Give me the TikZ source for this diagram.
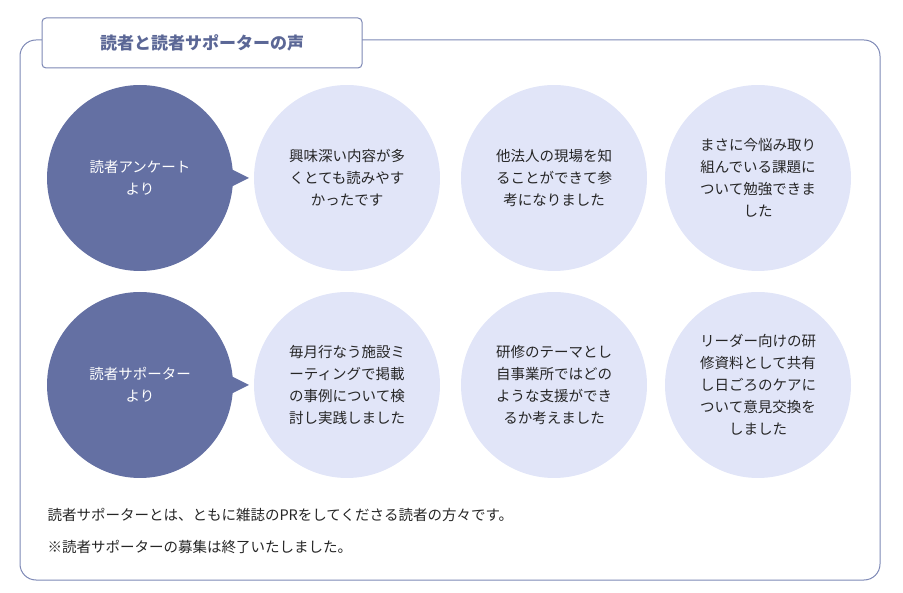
\documentclass[tikz,border=0pt]{standalone}
\usepackage{fontspec}
\setmainfont{Noto Sans CJK JP}
\XeTeXlinebreaklocale "ja"
\begin{document}
\begin{tikzpicture}[x=1pt,y=-1pt,
  dark/.style={circle,fill=dk,minimum size=186pt,inner sep=0pt,text=white,font=\fontsize{14.5}{22}\selectfont,align=center},
  light/.style={circle,fill=lt,minimum size=186pt,inner sep=0pt,text=black!85,font=\fontsize{14.5}{22}\selectfont,align=center},
  frame/.style={draw=fr,line width=1pt}]
\definecolor{dk}{HTML}{6470A3}
\definecolor{lt}{HTML}{E1E5F8}
\definecolor{fr}{HTML}{7D88B5}
\definecolor{tt}{HTML}{5B6796}
\useasboundingbox (0,0) rectangle (903,593);
\draw[frame,rounded corners=16pt] (42,40) -- (20,40) -- (20,580) -- (880,580) -- (880,40) -- (362,40);
\node[frame,fill=white,rounded corners=4pt,minimum width=320pt,minimum height=50pt,text=tt,font=\fontsize{17}{20}\selectfont\bfseries] (title) at (202,43) {読者と読者サポーターの声};
\foreach \y/\n in {178/1,385/2}{
  \fill[dk] (225,\y-12) -- (249,\y) -- (225,\y+12) -- cycle;
}
\node[dark] (d1) at (140,178) {読者アンケート\\より};
\node[dark] (d2) at (140,385) {読者サポーター\\より};
\node[light] (a1) at (347,178) {興味深い内容が多\\くとても読みやす\\かったです};
\node[light] (a2) at (554,178) {他法人の現場を知\\ることができて参\\考になりました};
\node[light] (a3) at (758,178) {まさに今悩み取り\\組んでいる課題に\\ついて勉強できま\\した};
\node[light] (b1) at (347,385) {毎月行なう施設ミ\\ーティングで掲載\\の事例について検\\討し実践しました};
\node[light] (b2) at (554,385) {研修のテーマとし\\自事業所ではどの\\ような支援ができ\\るか考えました};
\node[light] (b3) at (758,385) {リーダー向けの研\\修資料として共有\\し日ごろのケアに\\ついて意見交換を\\しました};
\node[anchor=west,font=\fontsize{14.5}{20}\selectfont,text=black!85] (n1) at (44,515) {読者サポーターとは、ともに雑誌のPRをしてくださる読者の方々です。};
\node[anchor=west,font=\fontsize{14.5}{20}\selectfont,text=black!85] (n2) at (44,547) {※読者サポーターの募集は終了いたしました。};
\end{tikzpicture}
\end{document}
